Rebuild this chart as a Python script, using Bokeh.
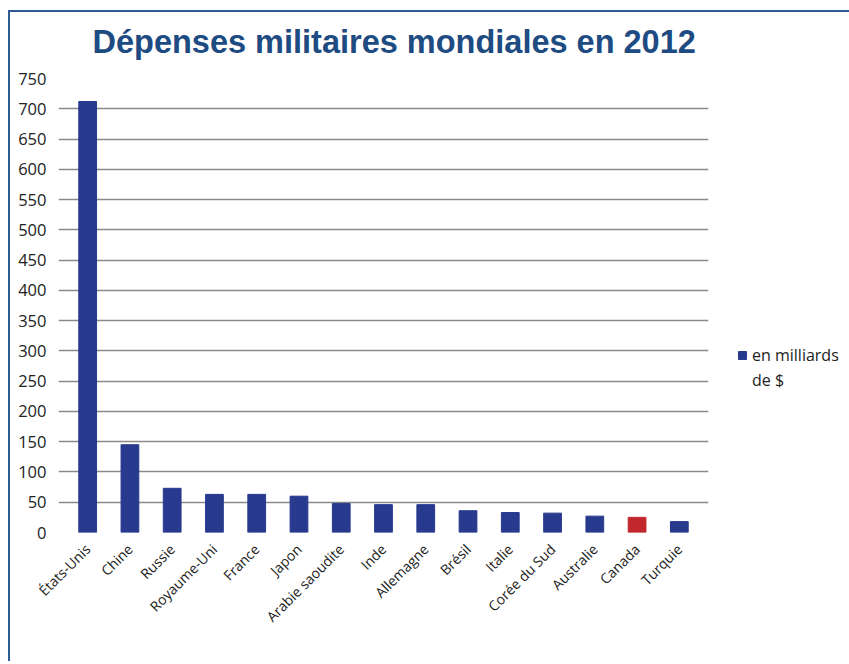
from bokeh.plotting import figure
from bokeh.models import FactorRange, Range1d, Legend, LegendItem, Title, FixedTicker
from bokeh.embed import file_html
from bokeh.resources import INLINE

countries = ["États-Unis", "Chine", "Russie", "Royaume-Uni", "France", "Japon",
             "Arabie saoudite", "Inde", "Allemagne", "Brésil", "Italie",
             "Corée du Sud", "Australie", "Canada", "Turquie"]
spending = [712, 145, 73, 63, 63, 60, 48, 46, 46, 36, 33, 32, 27, 25, 18]
bar_colors = ["#283a8e"] * 13 + ["#c1272d", "#283a8e"]
y_ticks = list(range(0, 751, 50))
title_text = "Dépenses militaires mondiales en 2012"
legend_line1 = "en milliards"
legend_line2 = "de $"

frame_color = "#2f5b94"
p = figure(x_range=FactorRange(*countries, range_padding=0.19, range_padding_units="absolute"),
           y_range=Range1d(0, 750),
           frame_width=650, frame_height=454,
           min_border_left=50, min_border_top=60, min_border_right=139, min_border_bottom=129,
           output_backend="svg", toolbar_location=None)
p.styles = {
    "margin-left": "8px", "margin-top": "2px",
    "background": (f"linear-gradient({frame_color}, {frame_color}) no-repeat 0px 8px / 100% 2px, "
                   f"linear-gradient({frame_color}, {frame_color}) no-repeat 0px 8px / 2px 100%"),
}
p.border_fill_alpha = 0

t = Title(text=title_text, align="left", text_font="Liberation Sans",
          text_font_size="32.5px", text_font_style="bold", text_color="#1d4b82",
          offset=34, standoff=38)
p.add_layout(t, "above")

r = p.vbar(x=countries, top=spending, width=0.42, color=bar_colors)
r_blank = p.vbar(x=[], top=[], width=0.42, fill_alpha=0, line_alpha=0)

p.outline_line_color = None
p.xgrid.grid_line_color = None
p.ygrid.grid_line_color = "#8a8a8a"
p.ygrid.grid_line_width = 1.6
p.yaxis.ticker = FixedTicker(ticks=y_ticks)
p.yaxis.axis_line_color = None
p.yaxis.major_tick_line_color = None
p.yaxis.minor_tick_line_color = None
p.yaxis.major_label_text_font = "Open Sans"
p.yaxis.major_label_text_font_size = "16.5px"
p.yaxis.major_label_text_color = "#222222"
p.yaxis.major_label_standoff = 6

p.xaxis.axis_line_color = None
p.xaxis.major_tick_line_color = None
p.xaxis.major_label_orientation = 0.785
p.xaxis.major_label_text_font = "Open Sans"
p.xaxis.major_label_text_font_size = "14px"
p.xaxis.major_label_text_color = "#222222"
p.xaxis.major_label_standoff = 8

legend = Legend(items=[LegendItem(label=legend_line1, renderers=[r], index=0),
                       LegendItem(label=legend_line2, renderers=[r_blank])],
                location=(29, 141), border_line_color=None, background_fill_alpha=0,
                label_text_font="Open Sans", label_text_font_size="16px",
                label_text_color="#222222", glyph_width=10, glyph_height=10,
                label_height=20, spacing=3,
                padding=0, margin=0, label_standoff=5)
p.add_layout(legend, "right")

open("out.html", "w").write(file_html(p, INLINE))
